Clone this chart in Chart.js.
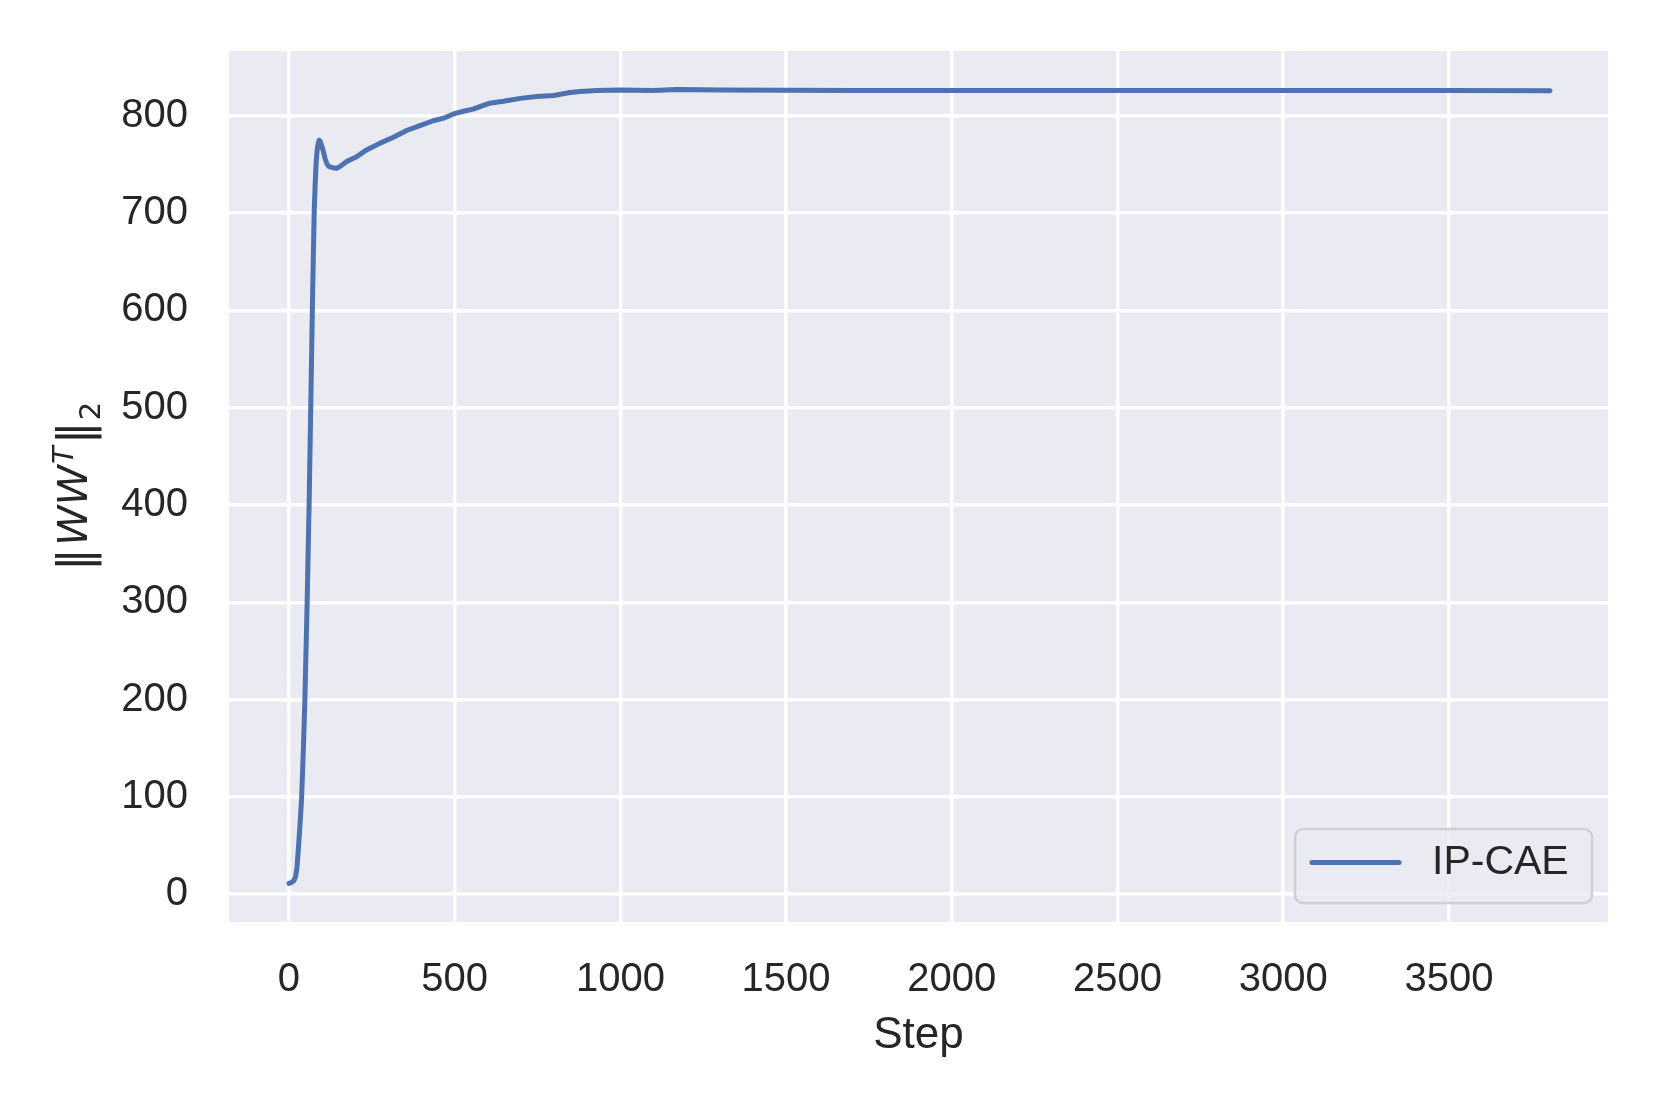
<!DOCTYPE html>
<html>
<head>
<meta charset="utf-8">
<script src="https://cdn.jsdelivr.net/npm/chart.js@4.4.1/dist/chart.umd.min.js"></script>
<style>
  body { margin: 0; background: #ffffff; }
  #graphic { width: 1661px; height: 1107px; }
</style>
</head>
<body>
<div id="graphic"><canvas id="analit" width="1661" height="1107"></canvas></div>
<script>
// values
const steps = [0, 8, 15, 20, 24, 28, 33, 38, 43, 48, 55, 61, 66, 71, 76, 79, 82, 85, 88, 91, 94, 98,
  104, 109, 114, 120, 129, 144, 154, 174, 204, 234, 275, 315, 355, 395, 435, 470, 496, 530, 556,
  580, 606, 647, 698, 747, 799, 848, 879, 929, 1000, 1100, 1171, 1302, 1500, 1700, 2000, 2500,
  3000, 3500, 3805];
const normValues = [11, 12, 14, 18, 27, 45, 70, 98, 145, 200, 303, 406, 508, 611, 700, 730, 752,
  765, 771, 775, 774, 770, 763, 756, 751, 748, 747, 746, 748, 753, 758, 765, 772, 778, 785, 790,
  795, 798, 802, 805, 807, 810, 813, 815, 818, 820, 821, 824, 825, 826, 826.5, 826, 827, 826.5,
  826.3, 826, 826, 826, 826, 826, 825.8];
const seriesName = 'IP-CAE';
const xTicks = [0, 500, 1000, 1500, 2000, 2500, 3000, 3500];
const yTicks = [0, 100, 200, 300, 400, 500, 600, 700, 800];

const lineColor = '#4C72B0';
const textColor = '#262626';
const tickFont = { family: 'Liberation Sans, Arial, sans-serif', size: 40 };

// grey plot background
const bgPlugin = {
  id: 'bg',
  beforeDraw(chart) {
    const { ctx, chartArea: a } = chart;
    ctx.save();
    ctx.fillStyle = '#EAEAF2';
    ctx.fillRect(a.left, a.top, a.right - a.left, a.bottom - a.top);
    ctx.restore();
  }
};

// y label  ||WW^T||_2  with italic W, superscript T and subscript 2
const yLabelPlugin = {
  id: 'ylabel',
  afterDraw(chart) {
    const { ctx, chartArea: a } = chart;
    const parts = [
      { t: '\u2016', f: '46px "DejaVu Sans"', dy: 3, gap: 2 },
      { t: 'WW', f: 'italic 41px "DejaVu Sans"', dy: 0, gap: 1 },
      { t: 'T', f: 'italic 29px "DejaVu Sans"', dy: -14, gap: 2 },
      { t: '\u2016', f: '46px "DejaVu Sans"', dy: 3, gap: 1 },
      { t: '2', f: '29px "DejaVu Sans"', dy: 13, gap: 0 }
    ];
    ctx.save();
    let total = 0;
    parts.forEach(p => { ctx.font = p.f; p.w = ctx.measureText(p.t).width + p.gap; total += p.w; });
    ctx.translate(87, (a.top + a.bottom) / 2);
    ctx.rotate(-Math.PI / 2);
    ctx.fillStyle = textColor;
    ctx.textBaseline = 'alphabetic';
    let x = -total / 2;
    parts.forEach(p => {
      ctx.font = p.f;
      ctx.fillText(p.t, x, p.dy);
      x += p.w;
    });
    ctx.restore();
  }
};

// legend box in the lower right corner of the plot
const legendPlugin = {
  id: 'boxlegend',
  afterDraw(chart) {
    const { ctx, chartArea: a } = chart;
    const w = 297, h = 74;
    const x = a.right - 16 - w, y = a.bottom - 19 - h;
    ctx.save();
    ctx.beginPath();
    ctx.roundRect(x, y, w, h, 8);
    ctx.fillStyle = 'rgba(234,234,242,0.8)';
    ctx.fill();
    ctx.lineWidth = 2.5;
    ctx.strokeStyle = '#cfcfd4';
    ctx.stroke();
    const cy = y + h / 2 - 3.5;
    ctx.beginPath();
    ctx.moveTo(x + 17, cy);
    ctx.lineTo(x + 104, cy);
    ctx.lineWidth = 5;
    ctx.lineCap = 'round';
    ctx.strokeStyle = lineColor;
    ctx.stroke();
    ctx.font = '41px "Liberation Sans", Arial, sans-serif';
    ctx.fillStyle = textColor;
    ctx.textBaseline = 'middle';
    ctx.fillText(chart.data.datasets[0].label, x + 137, cy);
    ctx.restore();
  }
};

const ctx = document.getElementById('analit').getContext('2d');
const myChart = new Chart(ctx, {
  type: 'line',
  data: {
    datasets: [{
      label: seriesName,
      data: steps.map((s, i) => ({ x: s, y: normValues[i] })),
      borderColor: lineColor,
      borderWidth: 5,
      borderCapStyle: 'round',
      borderJoinStyle: 'round',
      pointRadius: 0,
      tension: 0,
      fill: false
    }]
  },
  options: {
    responsive: false,
    animation: false,
    devicePixelRatio: 1,
    layout: { padding: { left: 0, right: 53, top: 51, bottom: 0 } },
    plugins: { legend: { display: false }, tooltip: { enabled: false } },
    scales: {
      x: {
        type: 'linear',
        min: -181,
        max: 3980,
        afterFit: s => { s.height = 185; s.paddingLeft = 0; s.paddingRight = 0; },
        afterBuildTicks: s => { s.ticks = xTicks.map(v => ({ value: v })); },
        grid: { color: '#ffffff', lineWidth: 3.5, drawTicks: false },
        border: { display: false },
        ticks: { color: textColor, font: tickFont, padding: 34, maxRotation: 0, callback: v => String(v) },
        title: {
          display: true,
          text: 'Step',
          color: textColor,
          font: { family: 'Liberation Sans, Arial, sans-serif', size: 44 },
          padding: { top: 0, bottom: 45 }
        }
      },
      y: {
        type: 'linear',
        min: -28.7,
        max: 866.7,
        afterFit: s => { s.width = 229; s.paddingTop = 0; s.paddingBottom = 0; },
        afterBuildTicks: s => { s.ticks = yTicks.map(v => ({ value: v })); },
        grid: { color: '#ffffff', lineWidth: 3.5, drawTicks: false },
        border: { display: false },
        ticks: { color: textColor, font: tickFont, padding: 41, callback: v => String(v) }
      }
    }
  },
  plugins: [bgPlugin, yLabelPlugin, legendPlugin]
});
</script>
</body>
</html>
